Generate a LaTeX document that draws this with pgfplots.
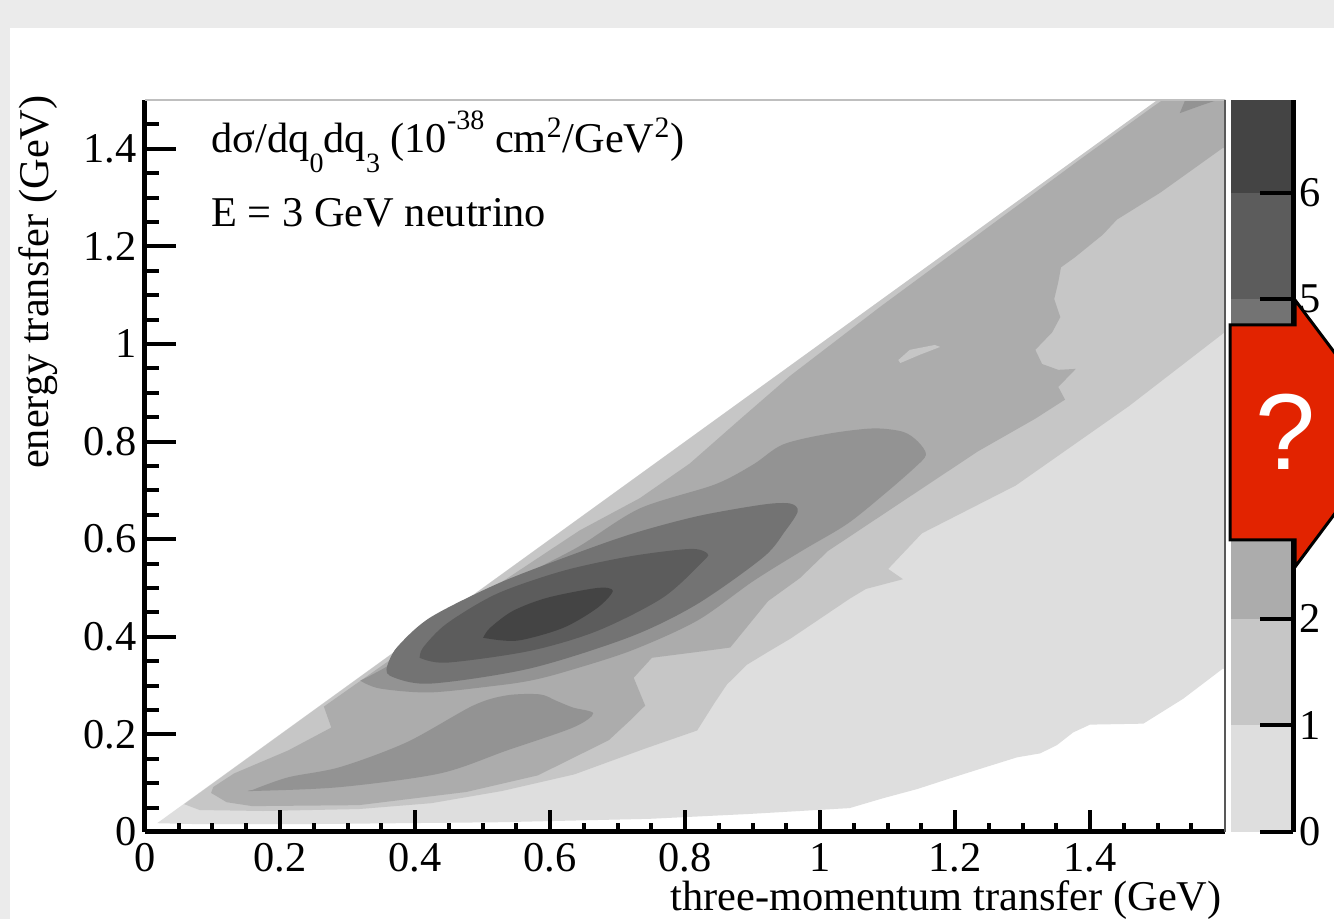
\documentclass[border=0pt]{standalone}
\usepackage{fontspec}
\setmainfont{Liberation Serif}
\newfontfamily\sansfont{Liberation Sans}
\usepackage{pgfplots}
\pgfplotsset{compat=1.18}
\definecolor{cA}{HTML}{DEDEDE}
\definecolor{cB}{HTML}{C6C6C6}
\definecolor{cC}{HTML}{ACACAC}
\definecolor{cD}{HTML}{939393}
\definecolor{cE}{HTML}{737373}
\definecolor{cF}{HTML}{5C5C5C}
\definecolor{cG}{HTML}{444444}
\definecolor{bgray}{HTML}{EBEBEB}
\definecolor{arrowred}{HTML}{E22300}
\newcommand\bigfont{\fontsize{21.2}{25}\selectfont}
\newcommand\smallfont{\fontsize{14}{14}\selectfont}
\begin{document}
\begin{tikzpicture}
\useasboundingbox (0,0) rectangle (667pt,459.5pt);
\clip (0,0) rectangle (667pt,459.5pt);
\fill[bgray] (0,0) rectangle (667pt,459.5pt);
\fill[white] (5pt,0) rectangle (667pt,445.5pt);

\begin{axis}[
  at={(72.5pt,43.5pt)}, anchor=south west,
  scale only axis, width=540pt, height=366pt,
  xmin=0, xmax=1.6, ymin=0, ymax=1.5,
  axis x line*=bottom, axis y line*=left,
  axis line style={line width=2.5pt, black},
  axis on top,
  tick align=inside,
  tick style={line width=2pt, black},
  xtick={0,0.2,0.4,0.6,0.8,1,1.2,1.4},
  xticklabels={0,0.2,0.4,0.6,0.8,1,1.2,1.4},
  ytick={0,0.2,0.4,0.6,0.8,1,1.2,1.4},
  yticklabels={0,0.2,0.4,0.6,0.8,1,1.2,1.4},
  minor xtick={0.05,0.1,0.15,0.25,0.3,0.35,0.45,0.5,0.55,0.65,0.7,0.75,0.85,0.9,0.95,1.05,1.1,1.15,1.25,1.3,1.35,1.45,1.5,1.55},
  minor ytick={0.05,0.1,0.15,0.25,0.3,0.35,0.45,0.5,0.55,0.65,0.7,0.75,0.85,0.9,0.95,1.05,1.1,1.15,1.25,1.3,1.35,1.45},
  xtick style={line width=2pt, black, /pgfplots/major tick length=11pt, /pgfplots/minor tick length=4.5pt},
  ytick style={line width=2pt, black, /pgfplots/major tick length=15.5pt, /pgfplots/minor tick length=7pt},
  tick label style={font=\bigfont, inner sep=0pt},
  xticklabel style={anchor=north, yshift=-5.5pt},
  yticklabel style={anchor=east, xshift=-4pt},
]
% level >= 0
\addplot[fill=cA, draw=none] coordinates {
(0.018,0.018) (1.53,1.53) (1.62,1.53) (1.62,0.32) (1.597,0.335) (1.538,0.273) (1.479,0.222) (1.400,0.220) (1.375,0.204) (1.351,0.178) (1.326,0.161) (1.292,0.153) (1.241,0.131) (1.193,0.110) (1.144,0.088) (1.093,0.069) (1.044,0.049) (0.896,0.037) (0.748,0.027) (0.526,0.020) (0.230,0.016) (0.081,0.016)} -- cycle;
% level >= 1
\addplot[fill=cB, draw=none] coordinates {
(0.058,0.057) (1.53,1.53) (1.62,1.53) (1.62,1.04) (1.606,1.031) (1.458,0.873) (1.290,0.710) (1.151,0.612) (1.101,0.539) (1.123,0.518) (1.068,0.498) (1.044,0.478) (0.956,0.396) (0.923,0.369) (0.892,0.343) (0.862,0.302) (0.844,0.265) (0.818,0.208) (0.741,0.171) (0.636,0.118) (0.529,0.084) (0.424,0.059) (0.317,0.047) (0.175,0.043) (0.081,0.045)} -- cycle;
% level >= 2
\addplot[fill=cC, draw=none] coordinates {
(0.265,0.257) (0.378,0.367) (0.526,0.510) (0.644,0.618) (0.733,0.684) (0.807,0.755) (0.881,0.845) (0.956,0.935) (1.089,1.076) (1.237,1.227) (1.385,1.378) (1.489,1.482) (1.528,1.52) (1.62,1.52) (1.62,1.39) (1.597,1.402) (1.504,1.310) (1.440,1.255) (1.419,1.224) (1.378,1.178) (1.357,1.157) (1.353,1.127) (1.347,1.092) (1.356,1.055) (1.344,1.024) (1.319,0.988) (1.329,0.959) (1.353,0.947) (1.379,0.949) (1.353,0.912) (1.363,0.886) (1.319,0.847) (1.234,0.780) (1.123,0.678) (1.012,0.576) (0.970,0.520) (0.923,0.473) (0.867,0.378) (0.830,0.371) (0.751,0.357) (0.724,0.316) (0.741,0.259) (0.719,0.229) (0.687,0.188) (0.582,0.116) (0.476,0.082) (0.317,0.055) (0.159,0.053) (0.121,0.061) (0.098,0.080) (0.101,0.092) (0.132,0.120) (0.212,0.167) (0.276,0.214)} -- cycle;
% small island of level 1 inside level 2
\addplot[fill=cB, draw=none] coordinates {
(1.116,0.967) (1.133,0.988) (1.170,0.998) (1.178,0.994) (1.148,0.978) (1.119,0.961)} -- cycle;
% level >= 3 : ridge
\addplot[fill=cD, draw=none, smooth, tension=0.5] coordinates {
(0.319,0.310) (0.373,0.351) (0.471,0.443) (0.570,0.531) (0.644,0.586) (0.733,0.663) (0.844,0.712) (0.901,0.753) (0.945,0.794) (1.012,0.816) (1.079,0.827) (1.123,0.820) (1.145,0.800) (1.157,0.773) (1.139,0.745) (1.095,0.692) (1.040,0.631) (0.973,0.576) (0.901,0.514) (0.818,0.433) (0.719,0.371) (0.619,0.327) (0.570,0.310) (0.521,0.300) (0.422,0.286) (0.348,0.294) (0.319,0.310)} -- cycle;
% level >= 3 : lower blob
\addplot[fill=cD, draw=none, smooth, tension=0.5] coordinates {
(0.159,0.086) (0.212,0.112) (0.289,0.133) (0.388,0.184) (0.486,0.259) (0.536,0.280) (0.585,0.282) (0.609,0.269) (0.634,0.255) (0.664,0.243) (0.634,0.214) (0.536,0.167) (0.437,0.120) (0.289,0.092) (0.160,0.084) (0.159,0.086)} -- cycle;
% level >= 3 : top-right patch
\addplot[fill=cD, draw=none] coordinates {
(1.533,1.473) (1.567,1.49) (1.6,1.505) (1.6,1.53) (1.55,1.53)} -- cycle;
% level >= 4
\addplot[fill=cE, draw=none, smooth, tension=0.5] coordinates {
(0.359,0.341) (0.373,0.378) (0.422,0.439) (0.521,0.508) (0.619,0.561) (0.719,0.610) (0.818,0.647) (0.916,0.671) (0.956,0.673) (0.967,0.657) (0.948,0.616) (0.916,0.563) (0.818,0.467) (0.719,0.400) (0.570,0.335) (0.422,0.304) (0.363,0.320) (0.359,0.341)} -- cycle;
% level >= 5
\addplot[fill=cF, draw=none, smooth, tension=0.5] coordinates {
(0.407,0.357) (0.447,0.347) (0.570,0.371) (0.670,0.412) (0.767,0.480) (0.827,0.555) (0.833,0.571) (0.807,0.580) (0.719,0.565) (0.619,0.535) (0.521,0.488) (0.447,0.427) (0.412,0.378) (0.407,0.357)} -- cycle;
% level >= 6
\addplot[fill=cG, draw=none, smooth, tension=0.5] coordinates {
(0.501,0.398) (0.551,0.392) (0.619,0.418) (0.670,0.459) (0.693,0.494) (0.670,0.500) (0.596,0.480) (0.545,0.453) (0.511,0.418) (0.501,0.398)} -- cycle;
\end{axis}

% top and right frame lines
\draw[color=black!25, line width=0.8pt] (72.5pt,409.5pt) -- (612.5pt,409.5pt);
\draw[color=black!65, line width=0.8pt] (612.5pt,409.5pt) -- (612.5pt,43.5pt);

% colour scale
\begin{axis}[
  at={(615.5pt,43.5pt)}, anchor=south west,
  scale only axis, width=31pt, height=366pt,
  xmin=0, xmax=1, ymin=0, ymax=6.87,
  axis x line=none, axis y line*=right,
  axis line style={line width=2.5pt, black},
  axis on top, tick align=inside,
  ytick={0,1,2,3,4,5,6},
  yticklabels={0,1,2,{},{},5,6},
  ytick style={line width=2pt, black, /pgfplots/major tick length=16.5pt},
  yticklabel style={font=\bigfont, anchor=west, inner sep=0pt, xshift=3pt},
]
\addplot[fill=cA, draw=none] coordinates {(0,0) (1,0) (1,1) (0,1)} -- cycle;
\addplot[fill=cB, draw=none] coordinates {(0,1) (1,1) (1,2) (0,2)} -- cycle;
\addplot[fill=cC, draw=none] coordinates {(0,2) (1,2) (1,3) (0,3)} -- cycle;
\addplot[fill=cD, draw=none] coordinates {(0,3) (1,3) (1,4) (0,4)} -- cycle;
\addplot[fill=cE, draw=none] coordinates {(0,4) (1,4) (1,5) (0,5)} -- cycle;
\addplot[fill=cF, draw=none] coordinates {(0,5) (1,5) (1,6) (0,6)} -- cycle;
\addplot[fill=cG, draw=none] coordinates {(0,6) (1,6) (1,6.87) (0,6.87)} -- cycle;
\end{axis}

% labels and texts
\node[rotate=90, anchor=base east, inner sep=0pt] at (24.5pt,412pt) {\bigfont energy transfer (GeV)};
\node[anchor=base east, inner sep=0pt] at (611pt,4pt) {\bigfont three-momentum transfer (GeV)};
\node[anchor=base west, inner sep=0pt] at (105.5pt,383pt) {\bigfont dσ/dq\raisebox{-0.45em}{\smallfont 0}dq\raisebox{-0.45em}{\smallfont 3} (10\raisebox{0.55em}{\smallfont -38} cm\textsuperscript{2}/GeV\textsuperscript{2})};
\node[anchor=base west, inner sep=0pt] at (105.5pt,346pt) {\bigfont E = 3 GeV neutrino};

% red arrow overlay
\draw[line width=1.5pt, fill=arrowred, line join=miter] (615pt,297pt) -- (647.5pt,297pt) -- (647.5pt,309.5pt) -- (697.5pt,243pt) -- (647.5pt,176pt) -- (647.5pt,189.5pt) -- (615pt,189.5pt) -- cycle;
\node[text=white, inner sep=0pt] at (643pt,243.5pt) {\sansfont\fontsize{54}{54}\selectfont ?};
\end{tikzpicture}
\end{document}
